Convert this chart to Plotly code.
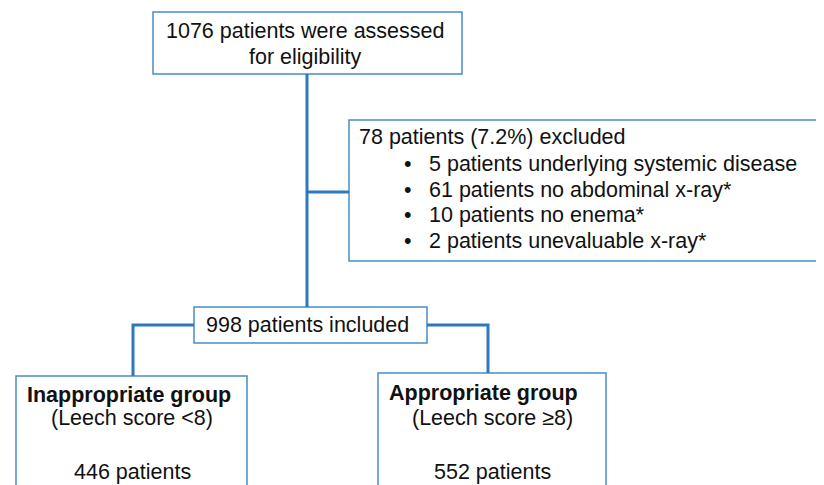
import plotly.graph_objects as go

# ---- data (text content of the flow chart) ----
assessed_lines = ["1076 patients were assessed", "for eligibility"]
excluded_title = ["78 patients (7.2%) excluded"]
excluded_items = [
    "5 patients underlying systemic disease",
    "61 patients no abdominal x-ray*",
    "10 patients no enema*",
    "2 patients unevaluable x-ray*",
]
included_label = ["998 patients included"]
group_names = ["Inappropriate group", "Appropriate group"]
group_criteria = ["(Leech score <8)", "(Leech score \u22658)"]
group_counts = ["446 patients", "552 patients"]

# ---- layout geometry (pixels, y downward, page coordinates) ----
W, H = 824, 485
OFF = 8  # default page body margin
FONT = "Liberation Sans, Arial, sans-serif"
FS = 21.5
TXT = "#111111"
LINE_C = "#2E78BD"
BOX_C = "#4A8CC6"

boxes = {
    "assessed": (153, 12, 462, 74),
    "excluded": (349, 120, 840, 261),
    "included": (194, 307, 427, 343),
    "left": (16, 376, 247, 500),
    "right": (378, 373, 606, 500),
}
connectors = [
    [(307, 74), (307, 307)],
    [(307, 192), (349, 192)],
    [(194, 325), (133, 325), (133, 376)],
    [(427, 325), (488, 325), (488, 373)],
]

fig = go.Figure()
shapes = []
for (x0, y0, x1, y1) in boxes.values():
    shapes.append(dict(type="rect", x0=x0, y0=y0, x1=x1, y1=y1, xref="x", yref="y",
                       line=dict(color=BOX_C, width=1.5), fillcolor="white", layer="below"))
for pts in connectors:
    path = "M " + " L ".join(f"{x},{y}" for x, y in pts)
    shapes.append(dict(type="path", path=path, xref="x", yref="y",
                       line=dict(color=LINE_C, width=3), layer="above"))

ann = []
def add(text, x, y, anchor="center", bold=False, size=FS):
    ann.append(dict(text=(f"<b>{text}</b>" if bold else text), x=x, y=y, xref="x", yref="y",
                    xanchor=anchor, yanchor="middle", showarrow=False,
                    font=dict(family=FONT, size=size, color=TXT)))

# assessed box
for i, t in enumerate(assessed_lines):
    add(t, 305, 31 + i * 26)
# excluded box
add(excluded_title[0], 357, 137, anchor="left")
for i, t in enumerate(excluded_items):
    yy = 164 + i * 25.7
    add("\u2022", 402, yy, anchor="left")
    add(t, 427, yy, anchor="left")
# included
add(included_label[0], 307, 325)
# groups
name_x = [25, 387]
center_x = [132, 492]
name_y = [395, 393]
for g in range(2):
    add(group_names[g], name_x[g], name_y[g], anchor="left", bold=True)
    add(group_criteria[g], center_x[g], 418)
    add(group_counts[g], center_x[g], 472)

fig.update_layout(
    width=W - OFF, height=H - OFF, margin=dict(l=0, r=0, t=0, b=0),
    paper_bgcolor="white", plot_bgcolor="white",
    xaxis=dict(range=[OFF, W], visible=False, fixedrange=True),
    yaxis=dict(range=[H, OFF], visible=False, fixedrange=True),
    shapes=shapes, annotations=ann, showlegend=False,
)
fig.write_html("out.html")
